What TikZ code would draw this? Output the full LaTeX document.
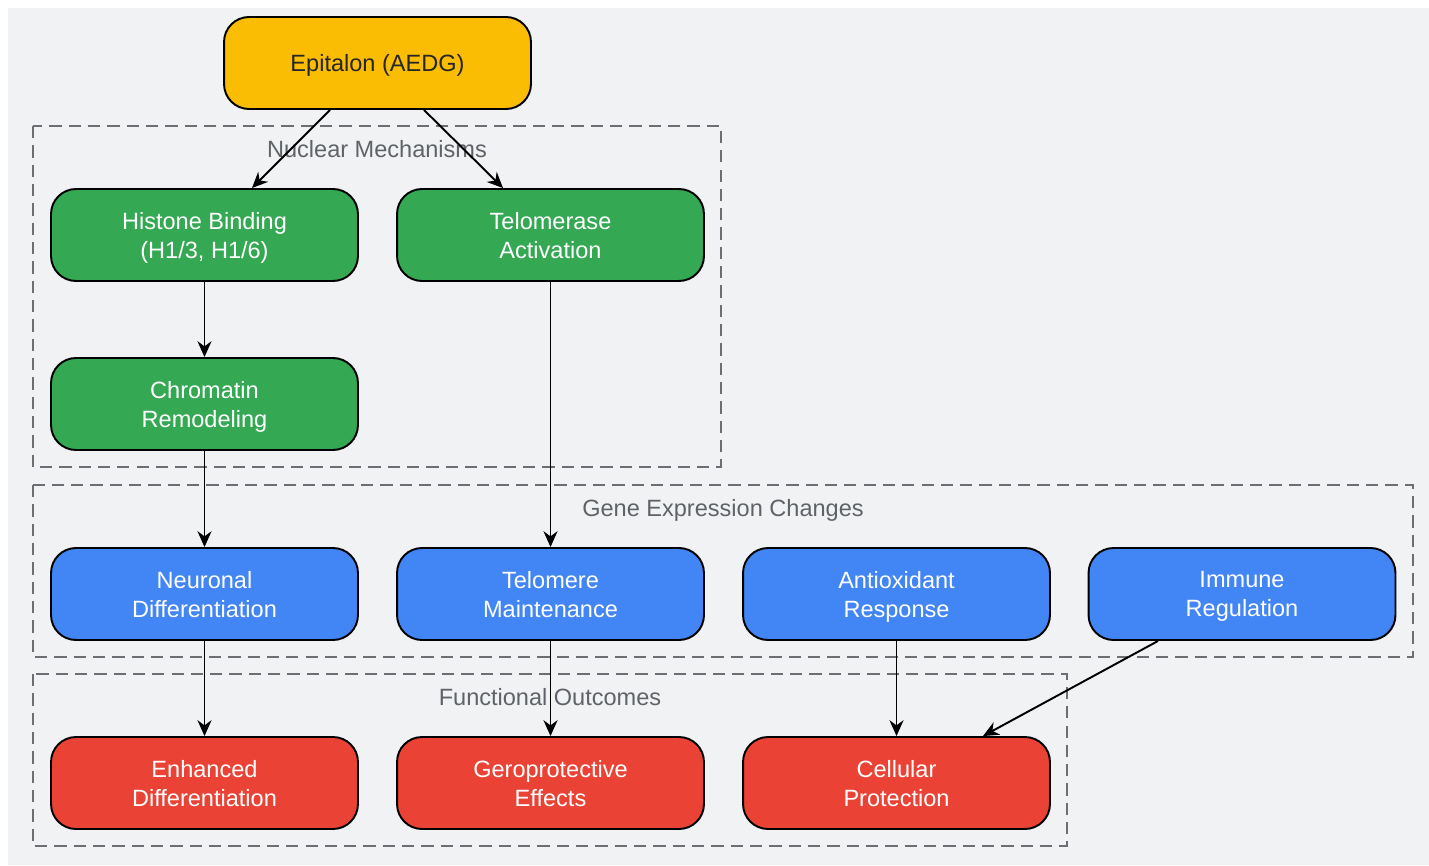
\documentclass[tikz,border=0pt]{standalone}
\usepackage{fontspec}
\setmainfont{Liberation Sans}
\usetikzlibrary{arrows.meta,positioning}
\definecolor{bgGray}{HTML}{F1F2F4}
\definecolor{epiYellow}{HTML}{FBBC04}
\definecolor{nucGreen}{HTML}{34A853}
\definecolor{geneBlue}{HTML}{4285F4}
\definecolor{outRed}{HTML}{EA4335}
\definecolor{clusterGray}{HTML}{6B6E73}
\definecolor{labelGray}{HTML}{5F6368}
\newcommand{\cluster}[3]{\draw[cluster] #1 rectangle #2; \node[clusterlabel] at #3}

\tikzset{
  box/.style={draw=black, line width=1.1pt, rounded corners=0.5cm,
    minimum width=6.14cm, minimum height=1.84cm, align=center,
    text depth=0pt, text=white, font=\fontsize{13.4}{16.5}\selectfont},
  epibox/.style={box, fill=epiYellow, text=black!85},
  nucbox/.style={box, fill=nucGreen},
  genebox/.style={box, fill=geneBlue},
  outbox/.style={box, fill=outRed},
  cluster/.style={draw=clusterGray, line width=1.1pt, dash pattern=on 7pt off 4pt},
  clusterlabel/.style={text=labelGray, text depth=0pt, font=\fontsize{13.4}{16}\selectfont},
  link/.style={-{Stealth[length=9pt,width=8pt]}, line width=1.1pt, black}
}

\begin{document}
\begin{tikzpicture}[x=0.02cm,y=-0.02cm]
    \useasboundingbox (0,0) rectangle (1429,865);
    \fill[bgGray] (8,8) rectangle (1429,865);
    % groups
    \cluster{(33,126)}{(721,467)}{(377,149)} {Nuclear Mechanisms};
    \cluster{(33,485)}{(1413,657)}{(723,508)} {Gene Expression Changes};
    \cluster{(33,674)}{(1067,846)}{(550,697)} {Functional Outcomes};
    % nodes
    \node[epibox] (epi) at (377.5,63) {Epitalon (AEDG)};
    \node[nucbox] (hist) at (204.5,235) {Histone Binding\\(H1/3, H1/6)};
    \node[nucbox] (telase) at (550.5,235) {Telomerase\\Activation};
    \node[nucbox] (chrom) at (204.5,404) {Chromatin\\Remodeling};
    \node[genebox] (neur) at (204.5,594) {Neuronal\\Differentiation};
    \node[genebox] (telmain) at (550.5,594) {Telomere\\Maintenance};
    \node[genebox] (antiox) at (896.5,594) {Antioxidant\\Response};
    \node[genebox] (immune) at (1242,594) {Immune\\Regulation};
    \node[outbox] (enh) at (204.5,783) {Enhanced\\Differentiation};
    \node[outbox] (gero) at (550.5,783) {Geroprotective\\Effects};
    \node[outbox] (cell) at (896.5,783) {Cellular\\Protection};
    % links
    \draw[link] ([xshift=-0.95cm]epi.south) -- ([xshift=0.95cm]hist.north);
    \draw[link] ([xshift=0.93cm]epi.south) -- ([xshift=-0.95cm]telase.north);
    \draw[link] (hist) -- (chrom);
    \draw[link] (chrom) -- (neur);
    \draw[link] (telase) -- (telmain);
    \draw[link] (neur) -- (enh);
    \draw[link] (telmain) -- (gero);
    \draw[link] (antiox) -- (cell);
    \draw[link] ([xshift=-1.68cm]immune.south) -- ([xshift=1.73cm]cell.north);
\end{tikzpicture}
\end{document}
